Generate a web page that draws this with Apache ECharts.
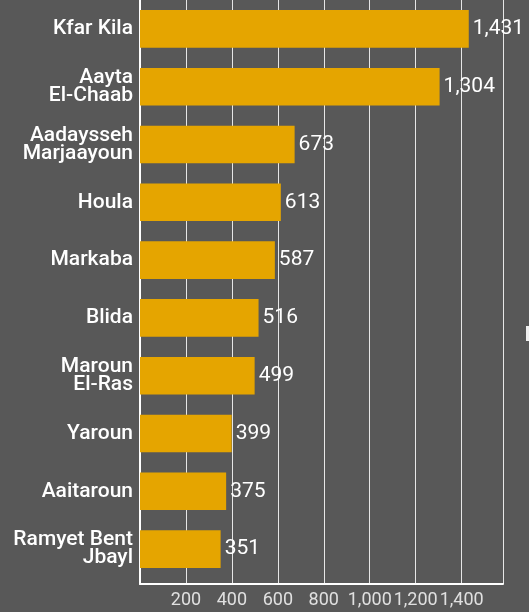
<!DOCTYPE html>
<html>
<head>
<meta charset="utf-8">
<script src="https://cdn.jsdelivr.net/npm/echarts@6/dist/echarts.min.js"></script>
<style>
  html, body { margin: 0; padding: 0; background: #585858; }
  #chart { width: 529px; height: 612px; }
</style>
</head>
<body>
<div id="chart"></div>
<script>
// villages, top to bottom
const villages = [
  'Kfar Kila',
  'Aayta\nEl-Chaab',
  'Aadaysseh\nMarjaayoun',
  'Houla',
  'Markaba',
  'Blida',
  'Maroun\nEl-Ras',
  'Yaroun',
  'Aaitaroun',
  'Ramyet Bent\nJbayl'
]
const counts = [1431, 1304, 673, 613, 587, 516, 499, 399, 375, 351]
const xTicks = [200, 400, 600, 800, 1000, 1200, 1400]
const xMax = 1580

const chart = echarts.init(document.getElementById('chart'))

// grid 0 holds the frame + gridlines, grid 1 holds the bars
// (bars stop a few px above the bottom axis line in the original)
chart.setOption({
  backgroundColor: '#585858',
  animation: false,
  grid: [
    { left: 140, right: 26, top: -1, bottom: 28 },
    { left: 140, right: 26, top: -1, height: 579 }
  ],
  xAxis: [
    {
      gridIndex: 0,
      type: 'value',
      min: 0,
      max: xMax,
      interval: 200,
      axisLine: { show: true, lineStyle: { color: '#ffffff', width: 2 } },
      axisTick: { show: false },
      splitLine: { show: true, lineStyle: { color: '#e6e6e6', width: 1 } },
      axisLabel: {
        color: '#e0e0e0',
        fontFamily: 'Roboto',
        fontSize: 18,
        margin: 7,
        formatter: v => xTicks.includes(v) ? v.toLocaleString('en-US') : ''
      }
    },
    {
      gridIndex: 1,
      type: 'value',
      min: 0,
      max: xMax,
      show: false
    }
  ],
  yAxis: [
    {
      gridIndex: 0,
      type: 'value',
      min: 0,
      max: 1,
      axisLine: { show: true, lineStyle: { color: '#ffffff', width: 2 } },
      axisTick: { show: false },
      axisLabel: { show: false },
      splitLine: { show: false }
    },
    {
      gridIndex: 1,
      type: 'category',
      inverse: true,
      data: villages,
      axisLine: { show: false },
      axisTick: { show: false },
      axisLabel: {
        color: '#ffffff',
        fontFamily: 'Roboto',
        fontWeight: 500,
        fontSize: 21,
        lineHeight: 18,
        margin: 7,
        align: 'right'
      }
    }
  ],
  series: [
    {
      type: 'bar',
      xAxisIndex: 1,
      yAxisIndex: 1,
      data: counts,
      barWidth: '65%',
      itemStyle: { color: '#e5a500' },
      label: {
        show: true,
        position: 'right',
        distance: 4,
        color: '#ffffff',
        fontFamily: 'Roboto',
        fontSize: 21,
        formatter: p => p.value.toLocaleString('en-US')
      }
    }
  ],
  graphic: [
    {
      type: 'rect',
      shape: { x: 526, y: 326, width: 3, height: 15 },
      style: { fill: '#f0f0f0' }
    }
  ]
})
</script>
</body>
</html>
